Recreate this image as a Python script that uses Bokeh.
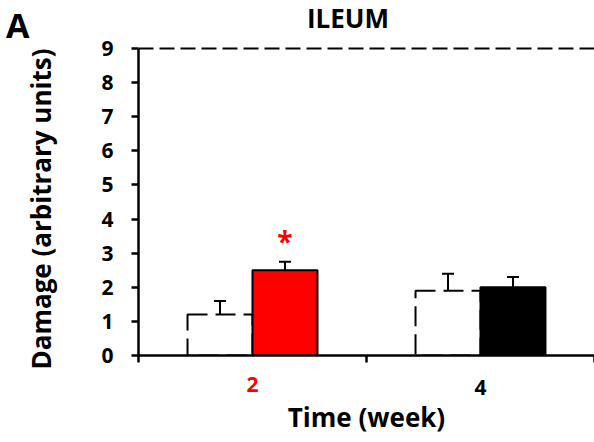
from bokeh.plotting import figure
from bokeh.models import (ColumnDataSource, Range1d, FixedTicker, Whisker,
                          TeeHead, Span, Label, LinearAxis, Title)
from bokeh.core.properties import value
from bokeh.embed import file_html
from bokeh.resources import INLINE

# ---- data ----
weeks = ["2", "4"]
control_mean = [1.2, 1.9]
control_err = [1.6, 2.4]
treated_mean = [2.5, 2.0]
treated_err = [2.75, 2.3]
treated_colors = ["#FF0000", "#000000"]
week_label_colors = ["#FF0000", "#000000"]
significance = ["*", ""]
y_ticks = [0, 1, 2, 3, 4, 5, 6, 7, 8, 9]
max_score = 9

FONT = "Open Sans"
BAR_W = 0.285
OFF = 0.1425

centers = [i + 0.5 for i in range(len(weeks))]
ctrl_x = [c - OFF for c in centers]
trt_x = [c + OFF for c in centers]

ctrl_src = ColumnDataSource(dict(x=ctrl_x, top=control_mean, err=control_err))
trt_src = ColumnDataSource(dict(x=trt_x, top=treated_mean, err=treated_err,
                                color=treated_colors, sig=significance))

W, H = 594, 442
LEFT, BOTTOM = 138, 87
frame_h = H - BOTTOM
y_top_px = 48                      # where the max score sits (from canvas top)
y_end = max_score * frame_h / (frame_h - y_top_px)

p = figure(width=W, height=H, output_backend="svg", toolbar_location=None,
           x_range=Range1d(0, len(weeks)), y_range=Range1d(0, y_end),
           min_border_left=LEFT, min_border_right=0, min_border_top=0,
           min_border_bottom=BOTTOM)
p.outline_line_color = None
p.xgrid.visible = False
p.ygrid.visible = False
p.background_fill_color = "white"
p.border_fill_color = "white"

# top dashed reference line (maximum score)
p.add_layout(Span(location=max_score, dimension="width", line_color="black",
                  line_width=2, line_dash="15 6"))

# bars
p.vbar(x="x", top="top", bottom=0, width=BAR_W, source=ctrl_src,
       fill_color="white", line_color="black", line_width=2, line_dash="20 8")
p.vbar(x="x", top="top", bottom=0, width=BAR_W, source=trt_src,
       fill_color="color", line_color="black", line_width=2)

# error bars (upper only)
for src in (ctrl_src, trt_src):
    p.add_layout(Whisker(base="x", lower="top", upper="err", source=src,
                         line_color="black", line_width=2,
                         upper_head=TeeHead(size=12, line_color="black", line_width=2),
                         lower_head=None, level="overlay"))

# significance marker
p.text(x="x", y="err", text="sig", source=trt_src, text_color="#FF0000",
       text_font=value(FONT), text_font_style="bold", text_font_size="28px",
       text_align="center", text_baseline="alphabetic", y_offset=-21)

# title
p.add_layout(Label(x=347.5 - LEFT, y=frame_h - 17, x_units="screen", y_units="screen",
                   text="ILEUM", text_color="black", text_font=FONT,
                   text_font_style="bold", text_font_size="26px",
                   text_align="center", text_baseline="alphabetic"))

# y axis
ya = p.yaxis[0]
ya.ticker = FixedTicker(ticks=y_ticks)
ya.bounds = (0, max_score)
ya.major_label_text_font = FONT
ya.major_label_text_font_style = "bold"
ya.major_label_text_font_size = "21px"
ya.major_label_text_color = "black"
ya.major_label_standoff = 18
ya.axis_line_width = 2.5
ya.axis_line_color = "black"
ya.major_tick_line_width = 2.5
ya.major_tick_line_color = "black"
ya.major_tick_in = 0
ya.major_tick_out = 7
ya.minor_tick_line_color = None

# blank spacer between tick labels and the y title
spacer = LinearAxis(ticker=FixedTicker(ticks=[0]), major_label_overrides={0: " "},
                    axis_line_color=None, major_tick_line_color=None,
                    minor_tick_line_color=None, major_tick_in=0, major_tick_out=0,
                    minor_tick_in=0, minor_tick_out=0, major_label_standoff=37,
                    major_label_text_font_size="1px", major_label_text_color="white")
p.add_layout(spacer, "left")

# y axis title (left side title so it can be shifted along the axis)
p.add_layout(Title(text="Damage (arbitrary units)", align="left", offset=-14,
                   standoff=0, text_font=FONT, text_font_style="bold",
                   text_font_size="26px", text_color="black"), "left")

# panel letter "A" (outer left axis carrying a single label)
a_pos = (frame_h - 24.5) / (frame_h - y_top_px) * max_score
ya2 = LinearAxis(ticker=FixedTicker(ticks=[a_pos]),
                 major_label_overrides={a_pos: "A"},
                 axis_line_color=None, major_tick_line_color=None,
                 minor_tick_line_color=None, major_tick_in=0, major_tick_out=0,
                 major_label_standoff=-9,
                 major_label_text_font=FONT, major_label_text_font_style="bold",
                 major_label_text_font_size="34px", major_label_text_color="black")
p.add_layout(ya2, "left")

# x axis: line, boundary ticks and black week labels
black_idx = [i for i, c in enumerate(week_label_colors) if c == "#000000"]
red_idx = [i for i, c in enumerate(week_label_colors) if c != "#000000"]

xa = p.xaxis[0]
xa.ticker = FixedTicker(ticks=[centers[i] for i in black_idx],
                        minor_ticks=list(range(len(weeks) + 1)))
xa.major_label_overrides = {centers[i]: weeks[i] for i in black_idx}
xa.major_label_text_font = FONT
xa.major_label_text_font_style = "bold"
xa.major_label_text_font_size = "21px"
xa.major_label_text_color = "black"
xa.major_label_standoff = 17
xa.axis_line_width = 2.5
xa.axis_line_color = "black"
xa.major_tick_line_color = None
xa.major_tick_in = 0
xa.major_tick_out = 7
xa.minor_tick_line_color = "black"
xa.minor_tick_line_width = 2.5
xa.minor_tick_in = 0
xa.minor_tick_out = 7

# second x axis: red week labels on the same row + axis title
xa2 = LinearAxis(ticker=FixedTicker(ticks=[centers[i] for i in red_idx]),
                 major_label_overrides={centers[i]: weeks[i] for i in red_idx},
                 axis_line_color=None, major_tick_line_color=None,
                 minor_tick_line_color=None, major_tick_in=0, major_tick_out=0,
                 major_label_standoff=-21,
                 major_label_text_font=FONT, major_label_text_font_style="bold",
                 major_label_text_font_size="21px",
                 major_label_text_color=week_label_colors[red_idx[0]],
                 axis_label="Time (week)", axis_label_standoff=4,
                 axis_label_text_font=FONT, axis_label_text_font_style="bold",
                 axis_label_text_font_size="26px", axis_label_text_color="black")
p.add_layout(xa2, "below")

open("out.html", "w").write(file_html(p, INLINE))
